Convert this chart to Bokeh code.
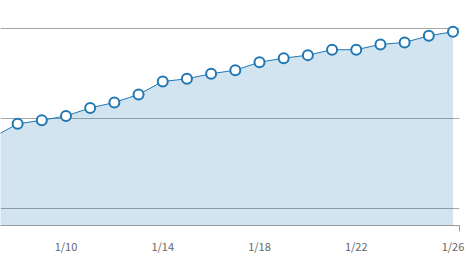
from bokeh.plotting import figure
from bokeh.models import Range1d, FixedTicker, Grid
from bokeh.embed import file_html
from bokeh.resources import INLINE

# data: day of January, value
days = [7, 8, 9, 10, 11, 12, 13, 14, 15, 16, 17, 18, 19, 20, 21, 22, 23, 24, 25, 26]
values = [179.7, 194.4, 198.3, 203.1, 212.0, 218.1, 227.0, 241.4, 244.4, 250.0,
          254.0, 262.9, 267.3, 270.7, 276.7, 276.7, 282.6, 284.8, 292.2, 296.7]
tick_days = [10, 14, 18, 22, 26]
tick_labels = ["1/10", "1/14", "1/18", "1/22", "1/26"]
grid_values = [100, 200, 300]

x_start, x_end = 7.292, 26.269
y_start, y_end = 81.4, 331.4

BLUE = "#1f77b4"

p = figure(width=469, height=261, output_backend="svg", toolbar_location=None,
           x_range=Range1d(x_start, x_end), y_range=Range1d(y_start, y_end),
           y_axis_location=None, min_border_left=0, min_border_right=10,
           min_border_top=0, min_border_bottom=36)
p.outline_line_color = None
p.xgrid.visible = False
p.ygrid.visible = False

g = Grid(dimension=1, ticker=FixedTicker(ticks=grid_values),
         grid_line_color="#a6a6a6", grid_line_width=1)
p.add_layout(g, "center")

p.varea(x=days, y1=0, y2=values, fill_color=BLUE, fill_alpha=0.2)
p.line(x=days, y=values, line_color=BLUE, line_width=1)
p.scatter(x=days, y=values, size=10, fill_color="white", line_color=BLUE, line_width=2)

ax = p.xaxis[0]
ax.ticker = FixedTicker(ticks=tick_days, minor_ticks=[x_end])
ax.major_label_overrides = {d: l for d, l in zip(tick_days, tick_labels)}
ax.major_tick_out = 0
ax.major_tick_in = 0
ax.minor_tick_out = 6
ax.minor_tick_in = 0
ax.minor_tick_line_color = "#999999"
ax.axis_line_color = "#999999"
ax.major_label_text_color = "#666666"
ax.major_label_text_font = "Noto Sans CJK JP"
ax.major_label_text_font_size = "11px"
ax.major_label_standoff = 6

open("out.html", "w").write(file_html(p, INLINE))
